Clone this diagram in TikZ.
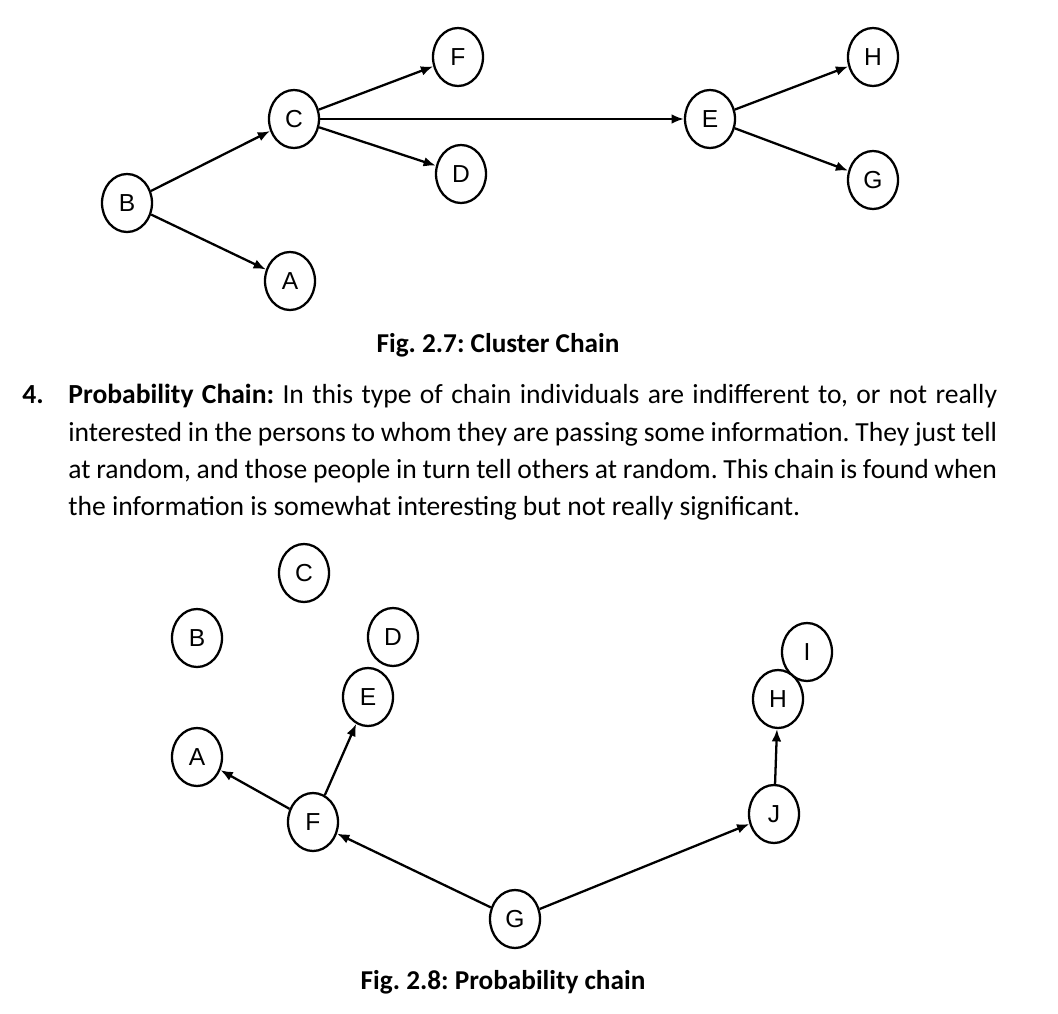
\documentclass[tikz,border=0pt]{standalone}
\usepackage{fontspec}
\setmainfont{Carlito}
\newfontfamily\letterfont{Liberation Sans}
\usepackage{tikz}
\usetikzlibrary{shapes.geometric, arrows.meta}
\frenchspacing

\begin{document}
\begin{tikzpicture}[x=0.02cm, y=-0.02cm, >={Latex[length=7pt,width=5.5pt]},
    person/.style={ellipse, draw, line width=1.3pt, fill=white, minimum width=1cm, minimum height=1.16cm, inner sep=0pt, font=\letterfont\fontsize{14}{16}\selectfont},
    pass/.style={->, line width=1.3pt},
    figcap/.style={font=\fontsize{15.5}{18}\selectfont\bfseries}]
    \useasboundingbox (0,0) rectangle (1058,1014);

    % Fig. 2.7
    \node[person] (cB) at (127,203) {B};
    \node[person] (cC) at (294,119) {C};
    \node[person] (cA) at (290,281) {A};
    \node[person] (cF) at (458,57) {F};
    \node[person] (cD) at (461,174) {D};
    \node[person] (cE) at (710,119) {E};
    \node[person] (cH) at (873,57) {H};
    \node[person] (cG) at (873,180) {G};

    \draw[pass] (cB) -- (cC);
    \draw[pass] (cB) -- (cA);
    \draw[pass] (cC) -- (cF);
    \draw[pass] (cC) -- (cD);
    \draw[pass] (cC) -- (cE);
    \draw[pass] (cE) -- (cH);
    \draw[pass] (cE) -- (cG);

    \node[figcap] (cap1) at (498,345) {Fig. 2.7: Cluster Chain};

    % text
    \node[anchor=north west, inner sep=0pt, text width=18.58cm, align=justify, font=\fontsize{15.7}{21.3}\selectfont] (para) at (68,384)
        {\noindent\llap{\makebox[0.92cm][l]{\textbf{4.}}}\textbf{Probability Chain:} In this type of chain individuals are indifferent to, or not really\linebreak
        interested in the persons to whom they are passing some information. They just tell\linebreak
        at random, and those people in turn tell others at random. This chain is found when\linebreak
        the information is somewhat interesting but not really significant.};

    % Fig. 2.8
    \node[person] (pC) at (304,573) {C};
    \node[person] (pB) at (197,638) {B};
    \node[person] (pD) at (393,637) {D};
    \node[person] (pE) at (368,697) {E};
    \node[person] (pA) at (197,757) {A};
    \node[person] (pF) at (313,822) {F};
    \node[person] (pG) at (515,919) {G};
    \node[person] (pJ) at (774,814) {J};
    \node[person] (pI) at (807,652) {I};
    \node[person] (pH) at (778,699) {H};

    \draw[pass] (pF) -- (pA);
    \draw[pass] (pF) -- (pE);
    \draw[pass] (pG) -- (pF);
    \draw[pass] (pG) -- (pJ);
    \draw[pass] (pJ) -- (pH);

    \node[figcap] (cap2) at (503,982) {Fig. 2.8: Probability chain};
\end{tikzpicture}
\end{document}
